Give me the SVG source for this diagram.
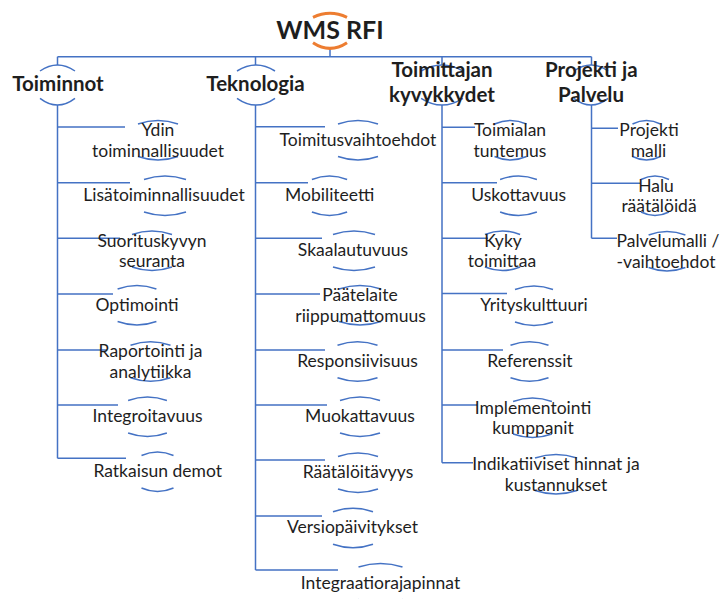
<svg xmlns="http://www.w3.org/2000/svg" xmlns:xlink="http://www.w3.org/1999/xlink" width="721" height="599" viewBox="0 0 721 599">
  <style>
    .ln { fill: none; stroke: #4472C4; stroke-width: 1.5; }
    .br { fill: none; stroke: #4472C4; stroke-width: 1.5; }
    .obr { fill: none; stroke: #ED7D31; stroke-width: 3; }
    text { fill: #1e1e1e; stroke: none; font-family: Lato, "Liberation Sans", sans-serif; text-anchor: middle; }
    .t { font-size: 17.5px; }
    .h { font-size: 20.5px; font-weight: bold; }
    .ttl { font-size: 25px; font-weight: bold; }
  </style>
  <defs>
    <!-- bracket arcs of a leaf node, centred on 0,0 -->
    <g id="br"><path vector-effect="non-scaling-stroke" d="M-20,-16.5 Q0,-23.5 20,-16.5"/><path vector-effect="non-scaling-stroke" d="M-20,16 Q0,23 20,16"/></g>
    <!-- bracket arcs of a category node -->
    <g id="hbr"><path vector-effect="non-scaling-stroke" d="M-19,-14 Q0,-26 19,-14"/><path vector-effect="non-scaling-stroke" d="M-19,13.3 Q0,26.7 19,13.3"/></g>
  </defs>

  <g id="connectors" class="ln">
    <path d="M330,48.3V56.7M57.5,56.7H591.5M57.5,56.7V65M255.5,56.7V65M442,56.7V65M591.5,56.7V65"/>
    <!-- Toiminnot -->
    <path d="M57.5,105V458.3M57.5,127H125M57.5,182.7H130M57.5,238.3H120M57.5,294H113M57.5,350H107M57.5,405H118M57.5,458.3H126"/>
    <!-- Teknologia -->
    <path d="M255.5,105V570M255.5,126.7H325M255.5,182.7H308M255.5,238.3H322M255.5,294H320M255.5,350H325M255.5,405H327M255.5,460H325M255.5,516H322M255.5,570H338"/>
    <!-- Toimittajan kyvykkydet -->
    <path d="M442,105V462.7M442,127.3H475M442,182.7H497M442,238.3H488M442,293.5H507M442,350H503M442,405H477M442,462.7H473"/>
    <!-- Projekti ja Palvelu -->
    <path d="M591.5,105V238.3M591.5,128.3H618M591.5,183.3H640M591.5,238.3H617"/>
  </g>

  <g id="root">
    <path class="obr" d="M313,17.3Q330,9.3 347,17.3M313,42.7Q330,54 347,42.7"/>
    <text class="ttl" x="330" y="38.5">WMS RFI</text>
  </g>

  <!-- category nodes -->
  <g id="toiminnot">
    <use href="#hbr" class="br" transform="translate(57.5,85) scale(0.92,1)"/>
    <text class="h" x="58" y="90.7">Toiminnot</text>
  </g>
  <g id="teknologia">
    <use href="#hbr" class="br" transform="translate(256,85)"/>
    <text class="h" x="255.5" y="90.7">Teknologia</text>
  </g>
  <g id="toimittajan-kyvykkydet">
    <use href="#hbr" class="br" transform="translate(442,85) scale(1.1,1)"/>
    <text class="h" x="442" y="77.3">Toimittajan</text>
    <text class="h" x="442" y="102">kyvykkydet</text>
  </g>
  <g id="projekti-ja-palvelu">
    <use href="#hbr" class="br" transform="translate(591,85) scale(0.9,1)"/>
    <text class="h" x="591.3" y="77.3">Projekti ja</text>
    <text class="h" x="591" y="102">Palvelu</text>
  </g>

  <!-- Toiminnot -->
  <g id="ydin-toiminnallisuudet">
    <use href="#br" class="br" transform="translate(158,140.5)"/>
    <text class="t" x="158" y="136">Ydin</text>
    <text class="t" x="158" y="156.7">toiminnallisuudet</text>
  </g>
  <g id="lisatoiminnallisuudet">
    <use href="#br" class="br" transform="translate(165,196) scale(1.05,1)"/>
    <text class="t" x="164" y="201">Lisätoiminnallisuudet</text>
  </g>
  <g id="suorituskyvyn-seuranta">
    <use href="#br" class="br" transform="translate(152,251)"/>
    <text class="t" x="152" y="246.5">Suorituskyvyn</text>
    <text class="t" x="152" y="267">seuranta</text>
  </g>
  <g id="optimointi">
    <use href="#br" class="br" transform="translate(137,305.5) scale(0.97,1)"/>
    <text class="t" x="137" y="310.5">Optimointi</text>
  </g>
  <g id="raportointi-ja-analytiikka">
    <use href="#br" class="br" transform="translate(150.5,361.7)"/>
    <text class="t" x="150.5" y="357.2">Raportointi ja</text>
    <text class="t" x="150.5" y="377.7">analytiikka</text>
  </g>
  <g id="integroitavuus">
    <use href="#br" class="br" transform="translate(147.5,417) scale(0.97,1)"/>
    <text class="t" x="147.5" y="422">Integroitavuus</text>
  </g>
  <g id="ratkaisun-demot">
    <use href="#br" class="br" transform="translate(157.5,472) scale(0.8,1)"/>
    <text class="t" x="157.7" y="477">Ratkaisun demot</text>
  </g>

  <!-- Teknologia -->
  <g id="toimitusvaihtoehdot">
    <use href="#br" class="br" transform="translate(358,140.5)"/>
    <text class="t" x="358" y="145.5">Toimitusvaihtoehdot</text>
  </g>
  <g id="mobiliteetti">
    <use href="#br" class="br" transform="translate(329.5,196) scale(0.88,1)"/>
    <text class="t" x="329.7" y="201">Mobiliteetti</text>
  </g>
  <g id="skaalautuvuus">
    <use href="#br" class="br" transform="translate(354,251) scale(1.05,1)"/>
    <text class="t" x="353" y="256">Skaalautuvuus</text>
  </g>
  <g id="paatelaite-riippumattomuus">
    <use href="#br" class="br" transform="translate(360,305.5) scale(1.05,1)"/>
    <text class="t" x="360" y="301">Päätelaite</text>
    <text class="t" x="360.5" y="321.5">riippumattomuus</text>
  </g>
  <g id="responsiivisuus">
    <use href="#br" class="br" transform="translate(357.5,361.7)"/>
    <text class="t" x="357.5" y="366.7">Responsiivisuus</text>
  </g>
  <g id="muokattavuus">
    <use href="#br" class="br" transform="translate(360,417)"/>
    <text class="t" x="360" y="422">Muokattavuus</text>
  </g>
  <g id="raataloitavyys">
    <use href="#br" class="br" transform="translate(358,473)"/>
    <text class="t" x="358" y="478">Räätälöitävyys</text>
  </g>
  <g id="versiopaivitykset">
    <use href="#br" class="br" transform="translate(353,528.3)"/>
    <text class="t" x="352.5" y="533.3">Versiopäivitykset</text>
  </g>
  <g id="integraatiorajapinnat">
    <use href="#br" class="br" transform="translate(380.5,583.5) scale(1.1,1)"/>
    <text class="t" x="380.5" y="588.5">Integraatiorajapinnat</text>
  </g>

  <!-- Toimittajan kyvykkydet -->
  <g id="toimialan-tuntemus">
    <use href="#br" class="br" transform="translate(510.5,140.5) scale(0.8,1)"/>
    <text class="t" x="510" y="136">Toimialan</text>
    <text class="t" x="510" y="156.7">tuntemus</text>
  </g>
  <g id="uskottavuus">
    <use href="#br" class="br" transform="translate(518.5,196) scale(0.92,1)"/>
    <text class="t" x="518.7" y="201">Uskottavuus</text>
  </g>
  <g id="kyky-toimittaa">
    <use href="#br" class="br" transform="translate(502.5,251) scale(0.88,1)"/>
    <text class="t" x="503" y="246.5">Kyky</text>
    <text class="t" x="502" y="267">toimittaa</text>
  </g>
  <g id="yrityskulttuuri">
    <use href="#br" class="br" transform="translate(534,306) scale(0.95,1)"/>
    <text class="t" x="534" y="311">Yrityskulttuuri</text>
  </g>
  <g id="referenssit">
    <use href="#br" class="br" transform="translate(529.5,361.7) scale(0.95,1)"/>
    <text class="t" x="530" y="366.7">Referenssit</text>
  </g>
  <g id="implementointi-kumppanit">
    <use href="#br" class="br" transform="translate(532.5,418) scale(0.97,1)"/>
    <text class="t" x="533" y="413.5">Implementointi</text>
    <text class="t" x="533" y="434">kumppanit</text>
  </g>
  <g id="indikatiiviset-hinnat">
    <use href="#br" class="br" transform="translate(556,474.5) scale(1.05,1)"/>
    <text class="t" x="556" y="470">Indikatiiviset hinnat ja</text>
    <text class="t" x="556" y="490.5">kustannukset</text>
  </g>

  <!-- Projekti ja Palvelu -->
  <g id="projekti-malli">
    <use href="#br" class="br" transform="translate(646.5,140.5) scale(0.7,1)"/>
    <text class="t" x="649" y="136">Projekti</text>
    <text class="t" x="648.5" y="156.7">malli</text>
  </g>
  <g id="halu-raataloida">
    <use href="#br" class="br" transform="translate(655,196) scale(0.7,1)"/>
    <text class="t" x="656" y="191.5">Halu</text>
    <text class="t" x="659" y="212">räätälöidä</text>
  </g>
  <g id="palvelumalli-vaihtoehdot">
    <use href="#br" class="br" transform="translate(667,251.5) scale(0.92,1)"/>
    <text class="t" x="668" y="247">Palvelumalli /</text>
    <text class="t" x="666" y="267.5">-vaihtoehdot</text>
  </g>
</svg>
